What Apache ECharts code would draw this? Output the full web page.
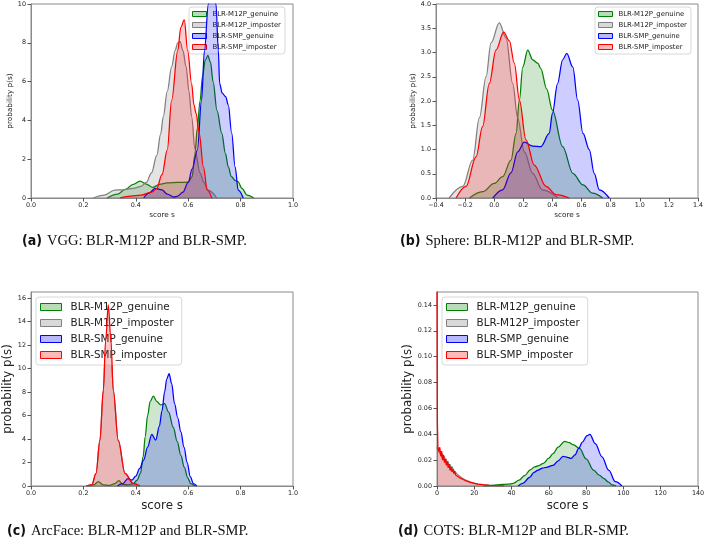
<!DOCTYPE html>
<html><head><meta charset="utf-8">
<script src="https://cdn.jsdelivr.net/npm/echarts@6/dist/echarts.min.js"></script>
<style>html,body{margin:0;padding:0;background:#fff}#c{width:709px;height:546px}</style>
</head><body><div id="c"></div>
<script>
// ---------- data ----------
const seriesNames = ['BLR-M12P_genuine','BLR-M12P_imposter','BLR-SMP_genuine','BLR-SMP_imposter'];
const captions = [
  ['(a)','VGG: BLR-M12P and BLR-SMP.'],
  ['(b)','Sphere: BLR-M12P and BLR-SMP.'],
  ['(c)','ArcFace: BLR-M12P and BLR-SMP.'],
  ['(d)','COTS: BLR-M12P and BLR-SMP.']
];
const xAxisTitle = 'score s';
const yAxisTitle = 'probability p(s)';

// tick labels
const ticksYA = [0,2,4,6,8,10];
const ticksYB = [0,0.5,1,1.5,2,2.5,3,3.5,4];
const ticksYC = [0,2,4,6,8,10,12,14,16];
const ticksYD = [0,0.02,0.04,0.06,0.08,0.10,0.12,0.14];
const ticksXA = [0,0.2,0.4,0.6,0.8,1.0];
const ticksXB = [-0.4,-0.2,0,0.2,0.4,0.6,0.8,1.0,1.2,1.4];
const ticksXC = [0,0.2,0.4,0.6,0.8,1.0];
const ticksXD = [0,20,40,60,80,100,120,140];

// (a) VGG
const vggM12PGenX = [0.29,0.33,0.36,0.39,0.416,0.44,0.465,0.49,0.52,0.56,0.6,0.615,0.625,0.635,0.645,0.655,0.665,0.675,0.685,0.695,0.71,0.728,0.742,0.753,0.765,0.78,0.79,0.805,0.825,0.85];
const vggM12PGenY = [0,0.2,0.45,0.7,0.87,0.72,0.55,0.7,0.78,0.8,0.82,1.1,2.2,3.6,5,6.3,7.1,7.35,7,6,4.5,3.35,2.3,1.6,1.1,0.9,0.85,0.5,0.15,0];
const vggM12PImpX = [0.237,0.28,0.32,0.35,0.39,0.42,0.44,0.46,0.48,0.495,0.505,0.52,0.537,0.55,0.56,0.569,0.58,0.592,0.603,0.613,0.626,0.645,0.66,0.676,0.709];
const vggM12PImpY = [0,0.15,0.41,0.42,0.5,0.6,0.8,1.3,2.2,3.3,4.2,5.5,6.77,7.6,8,8.06,7.6,6.77,5.5,4.2,2.5,1.3,0.8,0.4,0];
const vggSMPGenX = [0.43,0.45,0.474,0.5,0.52,0.545,0.56,0.58,0.6,0.615,0.635,0.651,0.662,0.677,0.69,0.706,0.715,0.72,0.73,0.743,0.753,0.766,0.779,0.791,0.81];
const vggSMPGenY = [0,0.25,0.5,0.42,0.2,0.05,0.1,0.3,0.8,1.5,2.47,5.05,7.6,10,11,10,7.6,5.9,5.4,5.22,4.8,3.35,1.6,0.4,0];
const vggSMPImpX = [0.34,0.38,0.42,0.46,0.48,0.5,0.52,0.537,0.56,0.572,0.585,0.598,0.613,0.622,0.63,0.642,0.658,0.673,0.69];
const vggSMPImpY = [0,0.1,0.15,0.3,0.5,1.2,2.47,5.05,7.6,8.8,9.18,7.6,5.9,4.8,4.37,3.35,1.6,0.4,0];

// (b) Sphere
const sphM12PGenX = [-0.17,-0.08,0.0,0.058,0.115,0.15,0.173,0.196,0.23,0.265,0.299,0.32,0.36,0.4,0.47,0.54,0.61,0.676,0.745];
const sphM12PGenY = [0,0.13,0.3,0.44,0.78,1.33,2.02,2.7,3.05,2.85,2.78,2.67,2.25,1.81,1.06,0.51,0.27,0.1,0];
const sphM12PImpX = [-0.31,-0.216,-0.148,-0.102,-0.056,-0.022,0.035,0.081,0.127,0.161,0.207,0.264,0.33,0.44];
const sphM12PImpY = [0,0.24,0.78,1.65,2.5,3.2,3.61,3.3,2.36,1.65,0.95,0.51,0.17,0];
const sphSMPGenX = [-0.01,0.058,0.115,0.161,0.207,0.264,0.321,0.378,0.40,0.435,0.47,0.498,0.54,0.573,0.61,0.653,0.687,0.722,0.79];
const sphSMPGenY = [0,0.17,0.52,0.95,1.15,1.07,1.06,1.33,1.75,2.36,2.85,2.98,2.7,2.02,1.33,1.0,0.51,0.17,0];
const sphSMPImpX = [-0.262,-0.194,-0.125,-0.08,-0.034,0.012,0.065,0.104,0.138,0.173,0.218,0.275,0.356,0.424,0.516];
const sphSMPImpY = [0,0.24,0.85,1.47,2.36,3.05,3.42,3.24,2.78,2.02,1.2,0.68,0.24,0.07,0];

// (c) ArcFace
const arcM12PGenX = [0.22,0.24,0.257,0.275,0.3,0.32,0.335,0.35,0.37,0.39,0.405,0.418,0.428,0.436,0.445,0.455,0.467,0.48,0.495,0.51,0.525,0.543,0.558,0.572,0.585,0.598,0.61,0.625];
const arcM12PGenY = [0,0.1,0.37,0.1,0.05,0.2,0.45,0.15,0.1,0.2,0.5,1.1,2.5,4.2,6.0,7.2,7.65,7.2,6.9,7.0,6.3,5.0,3.8,2.6,1.6,0.7,0.2,0];
const arcM12PImpX = [0.212,0.232,0.248,0.263,0.276,0.285,0.295,0.305,0.314,0.333,0.359,0.39,0.415];
const arcM12PImpY = [0,0.1,1.05,3.85,8.1,12.3,15.3,12.3,8.1,3.85,1.05,0.2,0];
const arcSMPGenX = [0.33,0.35,0.37,0.385,0.4,0.415,0.43,0.445,0.461,0.476,0.49,0.5,0.51,0.518,0.527,0.537,0.548,0.56,0.572,0.584,0.596,0.608,0.62,0.633];
const arcSMPGenY = [0,0.2,0.62,0.5,0.85,1.5,2.2,3.3,4.4,3.9,5.1,6.4,8.0,9.1,9.55,8.7,7.0,5.8,4.6,3.3,2.0,0.8,0.2,0];
const arcSMPImpX = [0.21,0.232,0.248,0.263,0.276,0.285,0.295,0.305,0.314,0.333,0.359,0.39,0.416];
const arcSMPImpY = [0,0.1,1.08,3.9,8.16,12.4,15.4,12.4,8.16,3.9,1.08,0.22,0];

// (d) COTS
const cotsM12PGenX = [25,30,35,38,41,44,47,50,52.4,55,57,60,62.2,65,68.5,71,73,76.5,80,84,87,89.4,92,94,96];
const cotsM12PGenY = [0,0.0005,0.0012,0.0014,0.002,0.0045,0.008,0.0125,0.0148,0.016,0.0175,0.0215,0.025,0.03,0.0346,0.0335,0.032,0.029,0.021,0.0123,0.0085,0.0059,0.003,0.0008,0];
const cotsM12PImpX = [0,0.5,1,1.5,2,2.5,3,3.5,4,4.5,5,5.5,6,6.5,7,7.5,8,9,10,11,12,13,14,15,16,18,20,22,25,28,32,36,40];
const cotsM12PImpY = [0.03,0.026,0.029,0.025,0.027,0.022,0.025,0.02,0.023,0.018,0.021,0.016,0.019,0.014,0.017,0.013,0.015,0.012,0.0105,0.009,0.0075,0.0065,0.0055,0.0048,0.004,0.003,0.0022,0.0015,0.001,0.0006,0.0003,0.0001,0];
const cotsSMPGenX = [43.5,46,49.7,52,54.2,56.5,58.6,62.2,65,67.6,70,72,74,76,78,80.5,82,84.9,88.5,92.1,95.7,99.2];
const cotsSMPGenY = [0,0.002,0.0067,0.0105,0.0123,0.0138,0.0144,0.016,0.0195,0.023,0.0222,0.0213,0.024,0.029,0.034,0.039,0.04,0.0328,0.0226,0.0123,0.0033,0];
const cotsSMPImpX = [0,0.2,0.5,1,1.5,2,2.5,3,3.5,4,4.5,5,5.5,6,6.5,7,7.5,8,8.5,9,9.5,10,11,12,13,14,15,16,18,20,22,25,28,32,36];
const cotsSMPImpY = [0.16,0.05,0.03,0.027,0.03,0.023,0.027,0.02,0.024,0.018,0.021,0.016,0.019,0.014,0.017,0.012,0.015,0.011,0.013,0.0095,0.0115,0.0085,0.009,0.0065,0.0075,0.005,0.0055,0.0038,0.0028,0.002,0.0014,0.0009,0.0005,0.0002,0];

// ---------- styling / layout ----------
const colors = ['#008000','#808080','#0000ff','#ff0000'];
const fills  = ['rgba(0,128,0,0.28)','rgba(128,128,128,0.3)','rgba(0,0,255,0.28)','rgba(255,0,0,0.28)'];
const frame = '#8a8a8a';
const tickFont = 'DejaVu Sans';

const grids = [
  {left:31, top:4, width:262, height:194},
  {left:436, top:4, width:262, height:194},
  {left:31, top:292, width:262, height:194},
  {left:437, top:292, width:261, height:194}
];

const panels = [
  {x:[vggM12PGenX,vggM12PImpX,vggSMPGenX,vggSMPImpX], y:[vggM12PGenY,vggM12PImpY,vggSMPGenY,vggSMPImpY], smooth:[true,true,true,true]},
  {x:[sphM12PGenX,sphM12PImpX,sphSMPGenX,sphSMPImpX], y:[sphM12PGenY,sphM12PImpY,sphSMPGenY,sphSMPImpY], smooth:[true,true,true,true]},
  {x:[arcM12PGenX,arcM12PImpX,arcSMPGenX,arcSMPImpX], y:[arcM12PGenY,arcM12PImpY,arcSMPGenY,arcSMPImpY], smooth:[true,true,true,true]},
  {x:[cotsM12PGenX,cotsM12PImpX,cotsSMPGenX,cotsSMPImpX], y:[cotsM12PGenY,cotsM12PImpY,cotsSMPGenY,cotsSMPImpY], smooth:[true,false,true,false]}
];

const fmt1 = v => (Math.round(v*10)/10).toFixed(1).replace('-', '\u2212');
const fmt2 = v => v.toFixed(2);
const fmt0 = v => String(Math.round(v));

const xCfg = [
  {min:0, max:1, ticks:ticksXA, f:fmt1},
  {min:-0.4, max:1.4, ticks:ticksXB, f:fmt1},
  {min:0, max:1, ticks:ticksXC, f:fmt1},
  {min:0, max:140, ticks:ticksXD, f:fmt0}
];
const yCfg = [
  {min:0, max:10, ticks:ticksYA, f:fmt0},
  {min:0, max:4, ticks:ticksYB, f:fmt1},
  {min:0, max:16.5, ticks:ticksYC, f:fmt0},
  {min:0, max:0.15, ticks:ticksYD, f:fmt2}
];
const small = [true,true,false,false];

const xAxis = xCfg.map((c,i)=>({
  type:'value', gridIndex:i, min:c.min, max:c.max,
  name: xAxisTitle, nameLocation:'middle', nameGap: 14,
  nameTextStyle:{fontFamily:tickFont, fontSize: small[i]?7.3:11.8, color:'#222'},
  axisLine:{show:true, onZero:false, lineStyle:{color:frame, width:1}},
  axisTick:{show:true, inside:false, length:3.5, customValues:c.ticks, lineStyle:{color:'#555'}},
  axisLabel:{customValues:c.ticks, formatter:c.f, fontFamily:tickFont, fontSize:6.4, color:'#222', margin:4},
  splitLine:{show:false}
}));
const yAxis = yCfg.map((c,i)=>({
  type:'value', gridIndex:i, min:c.min, max:c.max,
  name: yAxisTitle, nameLocation:'middle', nameGap: small[i]?17:(i===2?16:20),
  nameTextStyle:{fontFamily:tickFont, fontSize: small[i]?7.3:11.8, color:'#222'},
  axisLine:{show:true, onZero:false, lineStyle:{color:frame, width:1}},
  axisTick:{show:true, inside:false, length:3.5, customValues:c.ticks, lineStyle:{color:'#555'}},
  axisLabel:{customValues:c.ticks, formatter:c.f, fontFamily:tickFont, fontSize:6.4, color:'#222', margin:5},
  splitLine:{show:false}
}));

const series = [];
panels.forEach((p,gi)=>{
  for (let k=0;k<4;k++){
    series.push({
      type:'line', name:seriesNames[k], xAxisIndex:gi, yAxisIndex:gi,
      data:p.x[k].map((x,j)=>[x,p.y[k][j]]),
      smooth:p.smooth[k]?0.35:false, smoothMonotone:'x',
      showSymbol:false, symbol:'none', clip:true,
      lineStyle:{color:colors[k], width:1.25},
      itemStyle:{color:colors[k]},
      areaStyle:{color:fills[k], origin:'start'},
      silent:true, animation:false, z:2+k
    });
  }
});

const legendData = seriesNames.map((n,k)=>({name:n, icon:'rect',
  itemStyle:{color:fills[k], borderColor:colors[k], borderWidth:1}}));
const legBase = (small) => ({
  orient:'vertical', data:legendData, selectedMode:false,
  itemWidth: small?14:21, itemHeight: small?5:7, itemGap: small?3:4,
  backgroundColor:'rgba(255,255,255,0.85)', borderColor:'#d8d8d8', borderWidth:1, borderRadius:3,
  padding: small?[3,4,3,3]:[4,8,4,4],
  textStyle:{fontFamily:tickFont, fontSize: small?6.9:10.4, color:'#222', lineHeight: small?8:12, padding: small?[0,0,0,1]:[0,0,0,4]}
});
const legend = [
  Object.assign(legBase(true), {left:189, top:7}),
  Object.assign(legBase(true), {left:595, top:7}),
  Object.assign(legBase(false), {left:36, top:297}),
  Object.assign(legBase(false), {left:442, top:297})
];

const capPos = [[22,232],[400,232],[7,522],[398,522]];
const title = captions.map((c,i)=>({
  text:'{b|'+c[0]+'} {n|'+c[1]+'}', left:capPos[i][0], top:capPos[i][1], padding:0,
  textStyle:{fontWeight:'normal', rich:{
    b:{fontFamily:'"Liberation Sans Narrow","DejaVu Sans Condensed",sans-serif', fontWeight:'bold', fontSize:14, color:'#111'},
    n:{fontFamily:'"Liberation Serif","DejaVu Serif",serif', fontWeight:'normal', fontSize:14.5, color:'#111'}
  }}
}));

const chart = echarts.init(document.getElementById('c'), null, {renderer:'canvas'});
chart.setOption({
  animation:false,
  backgroundColor:'#fff',
  title: title,
  grid: grids.map(g=>Object.assign({show:true, borderColor:frame, borderWidth:1, backgroundColor:'transparent', containLabel:false}, g)),
  xAxis: xAxis, yAxis: yAxis,
  legend: legend,
  series: series
});
</script></body></html>
